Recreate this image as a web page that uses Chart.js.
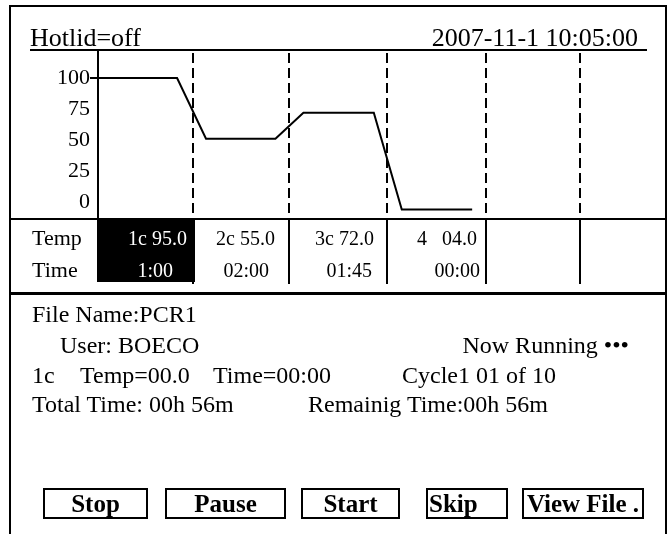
<!DOCTYPE html>
<html>
<head>
<meta charset="utf-8">
<title>PCR run screen</title>
<script src="https://cdn.jsdelivr.net/npm/chart.js@4.4.0/dist/chart.umd.min.js"></script>
<style>
  html, body { margin: 0; padding: 0; background: #fff; }
  body {
    width: 669px; height: 534px; position: relative; overflow: hidden;
    font-family: "Liberation Serif", "Times New Roman", serif; color: #000;
  }
  #profile { position: absolute; left: 0; top: 0; }
  .t { position: absolute; white-space: pre; line-height: 1; }
  .rule { position: absolute; background: #000; }
  .frame {
    position: absolute; left: 9px; top: 5px; width: 658px; height: 560px;
    box-sizing: border-box; border: 2px solid #000; border-bottom: none;
  }
  .btn {
    position: absolute; box-sizing: border-box; top: 488px; height: 31px;
    border: 2px solid #000; font-weight: bold; font-size: 25px; line-height: 27px;
    text-align: center; white-space: pre;
  }
</style>
</head>
<body>
<div class="frame"></div>
<canvas id="profile" width="669" height="534"></canvas>

<!-- header -->
<div class="t" style="left:30px;top:25px;font-size:26px">Hotlid=off</div>
<div class="t" style="right:31px;top:25px;font-size:26px">2007-11-1 10:05:00</div>
<div class="rule" style="left:30px;top:49px;width:617px;height:2px"></div>

<!-- step table -->
<div class="rule" style="left:9px;top:218px;width:658px;height:2px"></div>
<div class="rule" style="left:97px;top:219px;width:98px;height:63px"></div>
<div class="t" style="left:32px;top:227px;font-size:22px">Temp</div>
<div class="t" style="left:32px;top:259px;font-size:22px">Time</div>
<div id="cells"></div>
<div class="rule" style="left:9px;top:292px;width:658px;height:3px"></div>

<!-- run info -->
<div class="t" style="left:32px;top:302px;font-size:24px">File Name:PCR1</div>
<div class="t" style="left:60px;top:333px;font-size:24px">User: BOECO</div>
<div class="t" style="right:40px;top:333px;font-size:24px">Now Running •••</div>
<div class="t" style="left:32px;top:363px;font-size:24px">1c</div>
<div class="t" style="left:80px;top:363px;font-size:24px">Temp=00.0</div>
<div class="t" style="left:213px;top:363px;font-size:24px">Time=00:00</div>
<div class="t" style="left:402px;top:363px;font-size:24px">Cycle1 01 of 10</div>
<div class="t" style="left:32px;top:392px;font-size:24px">Total Time: 00h 56m</div>
<div class="t" style="left:308px;top:392px;font-size:24px">Remainig Time:00h 56m</div>

<!-- buttons -->
<div class="btn" style="left:43px;width:105px">Stop</div>
<div class="btn" style="left:165px;width:121px">Pause</div>
<div class="btn" style="left:301px;width:99px">Start</div>
<div class="btn" style="left:426px;width:82px;text-align:left;padding-left:1px">Skip</div>
<div class="btn" style="left:522px;width:122px">View File .</div>

<script>
// temperature profile as drawn (x in step widths, y in degrees)
const profileX = [0, 0.82, 1.12, 1.84, 2.13, 2.86, 3.15, 3.88];
const profileY = [100, 100, 51, 51, 72, 72, -6, -6];

// step boundaries (dashed columns)
const stepEdges = [0.98, 1.98, 3.0, 4.02, 5.0];

const yTicks = [0, 25, 50, 75, 100];

const stepTemps = ["1c 95.0", "2c 55.0", "3c 72.0", "4   04.0"];
const stepTimes = ["1:00", "02:00", "01:45", "00:00"];

// right edges of cell texts (layout only)
const tempRight = [187, 275, 374, 477];
const timeRight = [173, 269, 372, 480];

const cells = document.getElementById("cells");
stepTemps.forEach((txt, i) => {
  const a = document.createElement("div");
  a.className = "t";
  a.textContent = txt;
  a.style.cssText = `right:${669 - tempRight[i]}px;top:228px;font-size:20px;color:${i === 0 ? "#fff" : "#000"}`;
  cells.appendChild(a);

  const b = document.createElement("div");
  b.className = "t";
  b.textContent = stepTimes[i];
  b.style.cssText = `right:${669 - timeRight[i]}px;top:260px;font-size:20px;color:${i === 0 ? "#fff" : "#000"}`;
  cells.appendChild(b);
});

// dashed step columns in the plot, solid below it in the table
const stepLines = {
  id: "stepLines",
  beforeDatasetsDraw(chart) {
    const { ctx, chartArea, scales } = chart;
    ctx.save();
    ctx.strokeStyle = "#000";
    ctx.lineWidth = 2;
    stepEdges.forEach((v) => {
      const x = Math.round(scales.x.getPixelForValue(v));
      ctx.setLineDash([10, 5]);
      ctx.beginPath();
      ctx.moveTo(x, chartArea.top + 3);
      ctx.lineTo(x, chartArea.bottom);
      ctx.stroke();
      ctx.setLineDash([]);
      ctx.beginPath();
      ctx.moveTo(x, chartArea.bottom);
      ctx.lineTo(x, 284);
      ctx.stroke();
    });
    ctx.restore();
  },
};

new Chart(document.getElementById("profile"), {
  type: "line",
  data: {
    datasets: [{
      data: profileX.map((x, i) => ({ x, y: profileY[i] })),
      borderColor: "#000",
      borderWidth: 2,
      pointRadius: 0,
      tension: 0,
      fill: false,
    }],
  },
  options: {
    responsive: false,
    animation: false,
    layout: { padding: { left: 0, top: 50, right: 3, bottom: 315 } },
    plugins: { legend: { display: false }, tooltip: { enabled: false } },
    scales: {
      x: { type: "linear", display: false, min: 0, max: 5.89 },
      y: {
        min: -13.7,
        max: 122.6,
        afterBuildTicks: (s) => { s.ticks = yTicks.map((v) => ({ value: v })); },
        afterFit: (s) => { s.width = 98; },
        border: { display: true, color: "#000", width: 2 },
        grid: {
          drawOnChartArea: false,
          drawTicks: true,
          tickLength: 8,
          lineWidth: 2,
          color: (c) => (c.tick && c.tick.value === 100 ? "#000" : "rgba(0,0,0,0)"),
        },
        ticks: {
          color: "#000",
          padding: 0,
          font: { family: "Liberation Serif", size: 22 },
        },
      },
    },
  },
  plugins: [stepLines],
});
</script>
</body>
</html>
